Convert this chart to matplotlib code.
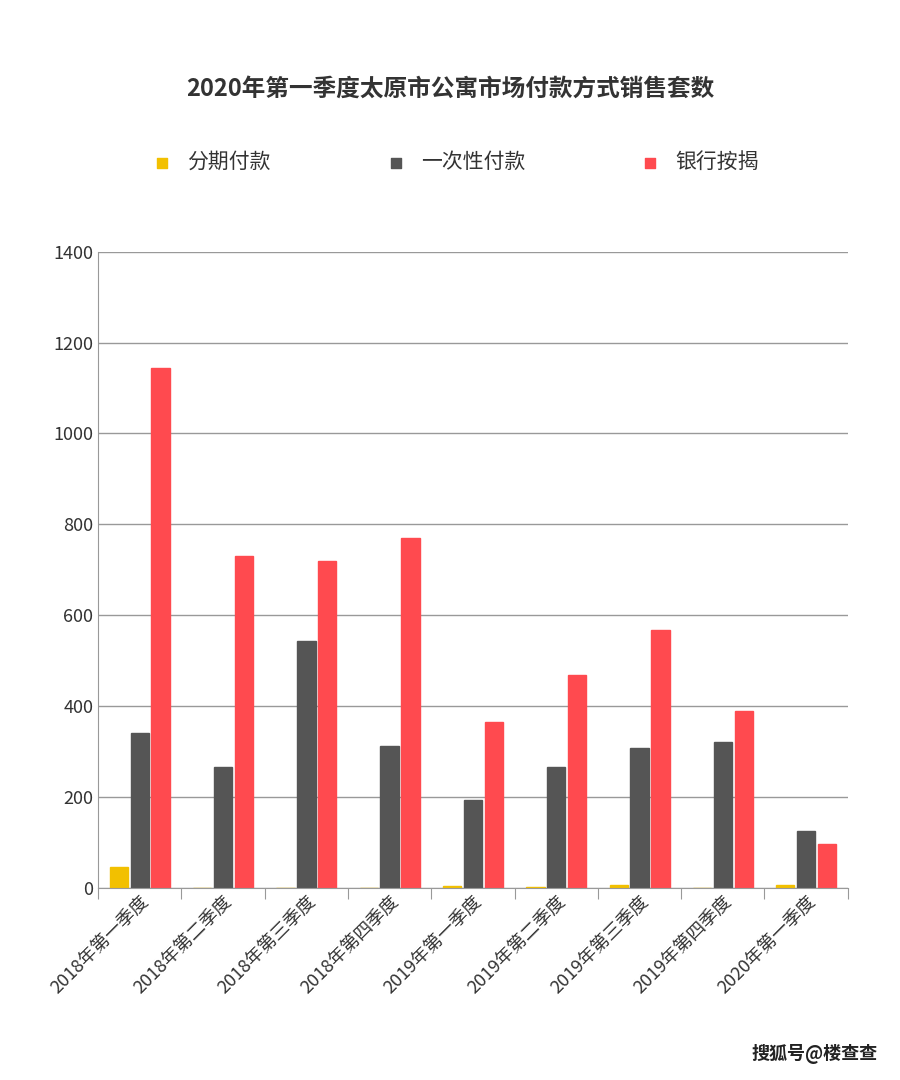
import matplotlib.pyplot as plt
import numpy as np

plt.rcParams['font.family'] = ['Noto Sans CJK SC', 'DejaVu Sans']

quarters = ['2018年第一季度', '2018年第二季度', '2018年第三季度', '2018年第四季度',
            '2019年第一季度', '2019年第二季度', '2019年第三季度', '2019年第四季度', '2020年第一季度']
installment = [46, 0, 0, 0, 3, 2, 5, 0, 5]
full_pay = [341, 266, 544, 313, 194, 266, 308, 321, 125]
mortgage = [1145, 731, 720, 769, 365, 469, 568, 388, 97]

names = ['分期付款', '一次性付款', '银行按揭']
colors = ['#f2c000', '#555555', '#ff4a4f']

fig = plt.figure(figsize=(9, 10.8), dpi=100)
ax = fig.add_axes([0.109, 0.178, 0.833, 0.589])

x = np.arange(len(quarters))
w = 0.22
for i, (vals, c) in enumerate(zip([installment, full_pay, mortgage], colors)):
    ax.bar(x + (i - 1) * (w + 0.03), vals, w, color=c, edgecolor=c)
    ax.scatter([], [], marker='s', s=60, color=c, label=names[i])

ax.set_xlim(-0.5, len(quarters) - 0.5)
ax.set_ylim(0, 1400)
ax.set_yticks(range(0, 1401, 200))
ax.grid(axis='y', color='#999999', linewidth=1)
ax.set_axisbelow(True)
for s in ['top', 'right']:
    ax.spines[s].set_visible(False)
ax.spines['left'].set_color('#999999')
ax.spines['bottom'].set_color('#999999')
ax.set_xticks(np.arange(-0.5, len(quarters), 1), minor=False, labels=[''] * (len(quarters) + 1))
ax.tick_params(axis='x', length=8, color='#999999')
ax.tick_params(axis='y', length=0, labelsize=13, colors='#333333')
ax.set_xticks(x, minor=True, labels=quarters)
ax.tick_params(axis='x', which='minor', length=0, labelsize=13, labelcolor='#333333')
for lab in ax.get_xticklabels(minor=True):
    lab.set_rotation(45)
    lab.set_ha('right')
    lab.set_rotation_mode('anchor')

fig.text(0.5, 0.918, '2020年第一季度太原市公寓市场付款方式销售套数', ha='center', va='center',
         fontsize=17, fontweight='bold', color='#333333')
fig.legend(loc='center', bbox_to_anchor=(0.5, 0.85), ncol=3, frameon=False, fontsize=15,
           handletextpad=0.2, columnspacing=5, labelcolor='#333333')
fig.text(0.975, 0.015, '搜狐号@楼查查', ha='right', va='bottom', fontsize=13, fontweight='bold', color='#222222')

plt.savefig('out.png')
